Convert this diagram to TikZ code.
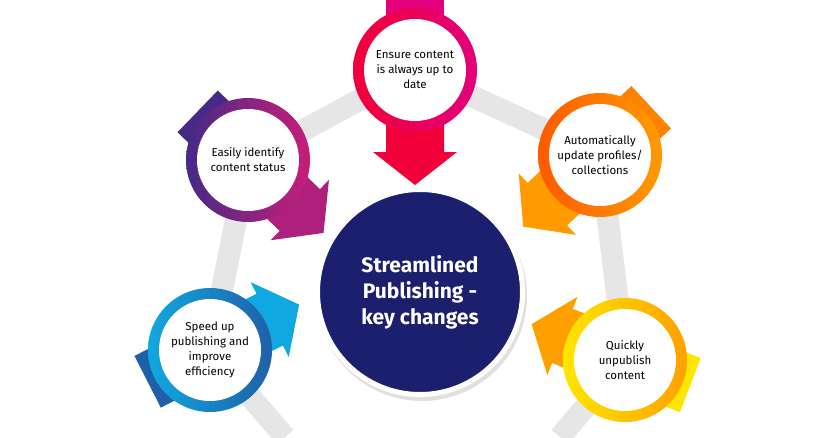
\documentclass[tikz,border=0pt]{standalone}
\usepackage{fontspec}
\setmainfont{Fira Sans}
\usetikzlibrary{positioning}
\definecolor{navy}{HTML}{1B1F6E}
\definecolor{band}{HTML}{E6E6E6}
\definecolor{redA}{HTML}{F2003A}
\definecolor{redB}{HTML}{E2007C}
\definecolor{purA}{HTML}{452A88}
\definecolor{purB}{HTML}{C81E78}
\definecolor{oraA}{HTML}{FF5A00}
\definecolor{oraB}{HTML}{FF9A00}
\definecolor{bluA}{HTML}{10A8E0}
\definecolor{bluB}{HTML}{2060A8}
\definecolor{yelA}{HTML}{FFE600}
\definecolor{yelB}{HTML}{FFA000}
\newcommand{\bigarrow}[5]{% centre, angle, tail colour, head colour, tip length
  \begin{scope}[shift={(#1)},rotate=#2]
    \fill[#3] (-70,-29) -- (10,-29) -- (10,29) -- (-70,29) -- cycle;
    \fill[#4] (10,-29) -- (#5-33,-29) -- (#5-33,-42) -- (#5,0) -- (#5-33,42) -- (#5-33,29) -- (10,29) -- cycle;
  \end{scope}}
\begin{document}
\begin{tikzpicture}[x=1pt,y=-1pt,
    ring/.style={circle, minimum size=124pt, inner sep=0pt},
    label text/.style={font=\fontsize{11.5}{15}\selectfont, align=center},
    band line/.style={band, line width=22pt}]
  \useasboundingbox (0,0) rectangle (830,437);

  \coordinate (cTop) at (415,70);
  \coordinate (cUL) at (248,160);
  \coordinate (cUR) at (600,155);
  \coordinate (cLL) at (210,350);
  \coordinate (cLR) at (625,360);
  \coordinate (bL) at (285,437);
  \coordinate (bR) at (560,437);

  % grey band
  \draw[band line] (bL) -- (cLL) -- (cUL) -- (cTop) -- (cUR) -- (cLR) -- (bR);

  % arrows behind the rings
  \bigarrow{cTop}{-90}{redB}{redA}{115}
  \bigarrow{cUL}{-44}{purA}{purB!80!purA}{105}
  \bigarrow{cUR}{223}{oraB!60!oraA}{oraB}{105}
  \bigarrow{cLL}{27}{bluB}{bluA}{100}
  \bigarrow{cLR}{159}{yelA}{yelB}{100}

  % rings
  \node[ring, left color=redA, right color=redB] (top) at (cTop) {};
  \node[ring, left color=purA, right color=purB] (ul) at (cUL) {};
  \node[ring, left color=oraA, right color=oraB] (ur) at (cUR) {};
  \node[ring, left color=bluA, right color=bluB] (ll) at (cLL) {};
  \node[ring, left color=yelA, right color=yelB] (lr) at (cLR) {};
  \foreach \c in {cTop,cUL,cUR,cLL,cLR}
    \fill[white] (\c) circle (51);

  \node[label text] (tTop) at (cTop) {Ensure content\\is always up to\\date};
  \node[label text] (tUL) at (cUL) {Easily identify\\content status};
  \node[label text] (tUR) at (cUR) {Automatically\\update profiles/\\collections};
  \node[label text] (tLL) at (cLL) {Speed up\\publishing and\\improve\\efficiency};
  \node[label text] (tLR) at (cLR) {Quickly\\unpublish\\content};

  % centre
  \fill[black!12] (422,296) circle (105);
  \node[circle, fill=navy, draw=white, line width=5pt, minimum size=205pt,
        text=white, align=center, font=\fontsize{21}{26}\selectfont\bfseries] (hub) at (420,292)
        {Streamlined\\Publishing -\\key changes};
\end{tikzpicture}
\end{document}
